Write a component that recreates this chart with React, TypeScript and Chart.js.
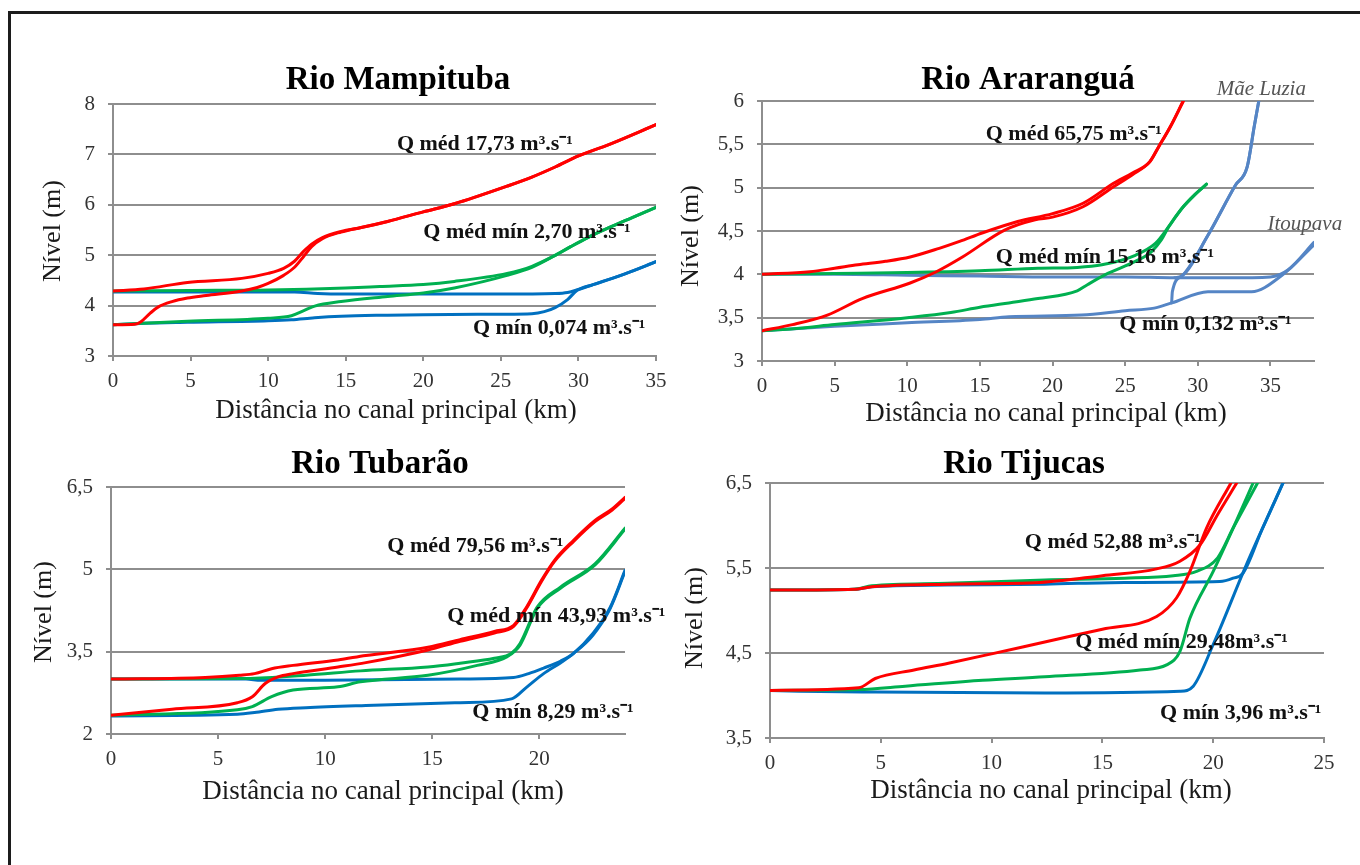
import React, { useEffect, useRef } from "react";
import { Chart, registerables } from "chart.js";
Chart.register(...registerables);

// ---------------- DATA (km along main channel, water level m) ----------------
// Rio Mampituba
const mampRedHighX = [0, 2, 4.8, 8.3, 10, 11, 11.7, 12.3, 12.8, 13.5, 14.7, 16, 17.7, 20, 22, 25.4, 27, 28.5, 30, 32, 35];
const mampRedHighY = [4.29, 4.33, 4.46, 4.54, 4.64, 4.74, 4.88, 5.08, 5.22, 5.35, 5.47, 5.55, 5.67, 5.86, 6.02, 6.37, 6.55, 6.75, 6.97, 7.2, 7.59];
const mampRedLowX = [0, 1.4, 1.8, 2.4, 2.9, 3.8, 4.8, 6, 8.3, 9.3, 10, 11, 11.7, 12.3, 12.8, 13.5, 14.7, 16, 17.7, 20, 22, 25.4, 27, 28.5, 30, 32, 35];
const mampRedLowY = [3.62, 3.63, 3.68, 3.85, 3.97, 4.08, 4.15, 4.2, 4.29, 4.36, 4.44, 4.6, 4.76, 4.98, 5.17, 5.33, 5.46, 5.55, 5.67, 5.86, 6.02, 6.37, 6.55, 6.75, 6.97, 7.2, 7.59];
const mampGreenHighX = [0, 5, 10, 15, 17.2, 20, 22, 25.4, 27, 28.4, 29.5, 30.6, 32, 33.5, 35];
const mampGreenHighY = [4.29, 4.3, 4.31, 4.35, 4.38, 4.42, 4.48, 4.64, 4.78, 4.98, 5.17, 5.35, 5.55, 5.75, 5.95];
const mampGreenLowX = [0, 4.8, 10, 11.5, 12.3, 13, 14.7, 17.7, 20, 22, 25.4, 27, 28.4, 29.5, 30.6, 32, 33.5, 35];
const mampGreenLowY = [3.62, 3.69, 3.75, 3.8, 3.9, 3.99, 4.08, 4.18, 4.25, 4.35, 4.6, 4.76, 4.98, 5.17, 5.35, 5.55, 5.75, 5.95];
const mampBlueHighX = [0, 10, 11.7, 13.2, 15, 20, 25, 28.5, 29.3, 30, 31, 33, 35];
const mampBlueHighY = [4.27, 4.27, 4.27, 4.24, 4.23, 4.23, 4.23, 4.24, 4.26, 4.32, 4.42, 4.63, 4.87];
const mampBlueLowX = [0, 2, 4.8, 10, 11.5, 13, 14.7, 17.7, 20, 25, 27, 27.8, 28.5, 29.3, 29.9, 31, 33, 35];
const mampBlueLowY = [3.62, 3.65, 3.67, 3.7, 3.72, 3.76, 3.79, 3.81, 3.82, 3.83, 3.84, 3.88, 3.96, 4.12, 4.3, 4.42, 4.63, 4.87];

// Rio Araranguá
const araRedHighX = [0, 3.3, 5, 6.6, 8.5, 10.2, 12.2, 13.6, 15.2, 17.6, 20, 22.1, 24.2, 25.5, 26.7, 27.3, 28.1, 29];
const araRedHighY = [4.0, 4.03, 4.07, 4.11, 4.15, 4.2, 4.3, 4.38, 4.48, 4.61, 4.7, 4.82, 5.05, 5.17, 5.3, 5.47, 5.7, 6.0];
const araRedLowX = [0, 2.1, 4.5, 6.9, 10.2, 12, 13.8, 16.7, 18.8, 20, 22.1, 24.2, 25.5, 26.7, 27.3, 28.1, 29];
const araRedLowY = [3.35, 3.42, 3.53, 3.72, 3.9, 4.03, 4.2, 4.51, 4.63, 4.66, 4.78, 5.01, 5.15, 5.3, 5.47, 5.7, 6.0];
const araGreenHighX = [0, 5, 10, 15, 19, 21.7, 23.4, 25.7, 27.1, 28, 28.9, 29.8, 30.6];
const araGreenHighY = [4.0, 4.01, 4.02, 4.04, 4.07, 4.08, 4.11, 4.22, 4.36, 4.55, 4.76, 4.92, 5.04];
const araGreenLowX = [0, 2, 5, 10, 13, 15, 17, 19, 21.7, 22.4, 23.8, 25.7, 26.8, 27.5, 28, 28.9, 29.8, 30.6];
const araGreenLowY = [3.35, 3.37, 3.42, 3.5, 3.56, 3.62, 3.67, 3.72, 3.81, 3.88, 4.01, 4.15, 4.26, 4.4, 4.55, 4.76, 4.92, 5.04];
const araBlueHighX = [0, 5, 10, 15, 20, 25, 28.4, 32, 35, 36.2, 38];
const araBlueHighY = [4.0, 4.0, 3.99, 3.98, 3.97, 3.97, 3.96, 3.96, 3.97, 4.05, 4.37];
const araBlueLowX = [0, 5, 10, 15, 17, 22, 25, 27, 28.2, 30.7, 33.7, 35.8, 38];
const araBlueLowY = [3.35, 3.4, 3.44, 3.48, 3.51, 3.53, 3.58, 3.61, 3.67, 3.8, 3.8, 3.99, 4.34];
const araMaeLuziaLowX = [28.2, 28.25, 28.9, 30.7, 32.6, 33.4, 33.9, 34.2];
const araMaeLuziaLowY = [3.67, 3.8, 3.98, 4.45, 5.03, 5.24, 5.72, 6.0];
const araMaeLuziaHighX = [28.4, 28.9, 30.7, 32.6, 33.4, 33.9, 34.2];
const araMaeLuziaHighY = [3.96, 3.98, 4.45, 5.03, 5.24, 5.72, 6.0];

// Rio Tubarão
const tubRedHighX = [0, 4.4, 6, 6.7, 7.5, 8.5, 10.6, 11.9, 14.8, 16.3, 17.9, 18.8, 19.4, 20.1, 20.7, 21.6, 22.6, 23.4, 24];
const tubRedHighY = [3.0, 3.03, 3.07, 3.1, 3.19, 3.25, 3.35, 3.43, 3.58, 3.72, 3.87, 3.98, 4.31, 4.8, 5.16, 5.53, 5.89, 6.1, 6.31];
const tubRedLowX = [0, 2.85, 5.9, 6.6, 7.2, 7.8, 8.5, 10.6, 11.9, 14.8, 16.3, 17.9, 18.8, 19.4, 20.1, 20.7, 21.6, 22.6, 23.4, 24];
const tubRedLowY = [2.34, 2.45, 2.57, 2.68, 2.92, 3.04, 3.1, 3.22, 3.3, 3.53, 3.69, 3.84, 3.96, 4.29, 4.78, 5.14, 5.51, 5.87, 6.08, 6.29];
const tubGreenHighX = [0, 6.3, 9.1, 11.65, 14.8, 16.3, 17.9, 18.7, 19.1, 19.9, 21, 22.6, 24];
const tubGreenHighY = [3.0, 3.01, 3.07, 3.15, 3.22, 3.29, 3.38, 3.47, 3.65, 4.31, 4.68, 5.1, 5.75];
const tubGreenLowX = [0, 5.9, 6.6, 7.5, 8.5, 10.6, 11.65, 14.8, 17.1, 18.5, 19.1, 19.9, 21, 22.6, 24];
const tubGreenLowY = [2.34, 2.44, 2.5, 2.68, 2.8, 2.86, 2.95, 3.07, 3.25, 3.41, 3.62, 4.29, 4.66, 5.08, 5.73];
const tubBlueHighX = [0, 6.3, 7, 10, 16.3, 18.8, 19.5, 20.2, 21, 21.6, 22.5, 23.3, 24];
const tubBlueHighY = [3.0, 3.0, 2.98, 2.98, 3.0, 3.03, 3.1, 3.2, 3.33, 3.47, 3.83, 4.3, 4.98];
const tubBlueLowX = [0, 5.9, 6.7, 7.8, 9.1, 11.9, 16.3, 18.7, 19.4, 20.2, 21, 21.6, 22.5, 23.3, 24];
const tubBlueLowY = [2.33, 2.36, 2.39, 2.45, 2.48, 2.52, 2.57, 2.64, 2.85, 3.1, 3.3, 3.47, 3.8, 4.28, 4.96];

// Rio Tijucas
const tijRedHighX = [0, 3.8, 4.6, 8, 12.2, 15, 17.45, 18.5, 19.4, 20.2, 21.06];
const tijRedHighY = [5.24, 5.25, 5.28, 5.31, 5.33, 5.41, 5.49, 5.58, 5.77, 6.13, 6.5];
const tijRedLowX = [0, 4, 4.75, 6.5, 8.05, 10, 12.4, 15, 17.45, 18.35, 18.95, 19.7, 20.8];
const tijRedLowY = [4.06, 4.09, 4.2, 4.3, 4.38, 4.49, 4.63, 4.78, 4.93, 5.15, 5.46, 5.97, 6.5];
const tijGreenHighX = [0, 3.8, 4.6, 8, 12.4, 16, 18.2, 19.25, 20.2, 20.9, 22];
const tijGreenHighY = [5.24, 5.25, 5.29, 5.32, 5.36, 5.38, 5.41, 5.46, 5.62, 5.97, 6.5];
const tijGreenLowX = [0, 4, 6.1, 9.6, 12.4, 16.7, 17.9, 18.5, 18.95, 20, 20.9, 21.8];
const tijGreenLowY = [4.06, 4.07, 4.11, 4.18, 4.22, 4.3, 4.36, 4.52, 4.91, 5.46, 5.97, 6.5];
const tijBlueHighX = [0, 3.84, 4.6, 8, 12.4, 16, 20.3, 20.9, 21.35, 22.2, 23.15];
const tijBlueHighY = [5.24, 5.25, 5.28, 5.3, 5.31, 5.33, 5.34, 5.38, 5.44, 5.95, 6.5];
const tijBlueLowX = [0, 1.3, 4.75, 12.4, 18.5, 19.1, 20, 21.5, 23.15];
const tijBlueLowY = [4.06, 4.05, 4.04, 4.03, 4.05, 4.11, 4.6, 5.54, 6.5];

// Axis ranges / ticks
const mampXRange = [0, 35, 5];
const mampYRange = [3, 8, 1];
const araXRange = [0, 38, 5];
const araYRange = [3, 6, 0.5];
const tubXRange = [0, 24, 5];
const tubYRange = [2, 6.5, 1.5];
const tijXRange = [0, 25, 5];
const tijYRange = [3.5, 6.5, 1];

// Texts
const X_TITLE = "Distância no canal principal (km)";
const Y_TITLE = "Nível (m)";
const mampTitle = "Rio Mampituba";
const araTitle = "Rio Araranguá";
const tubTitle = "Rio Tubarão";
const tijTitle = "Rio Tijucas";
const mampNotes = ["Q méd 17,73 m³.s⁻¹", "Q méd mín 2,70 m³.s⁻¹", "Q mín 0,074 m³.s⁻¹"];
const mampNoteX = [18.3, 20.0, 23.2];
const mampNoteY = [7.09, 5.35, 3.44];
const araNotes = ["Q méd 65,75 m³.s⁻¹", "Q méd mín 15,16 m³.s⁻¹", "Q mín 0,132 m³.s⁻¹"];
const araNoteX = [15.4, 16.1, 24.6];
const araNoteY = [5.55, 4.13, 3.36];
const araPlaces = ["Mãe Luzia", "Itoupava"];
const araPlaceX = [31.3, 34.8];
const araPlaceY = [6.07, 4.51];
const tubNotes = ["Q méd 79,56 m³.s⁻¹", "Q méd mín 43,93 m³.s⁻¹", "Q mín 8,29 m³.s⁻¹"];
const tubNoteX = [12.9, 15.7, 16.87];
const tubNoteY = [5.31, 4.04, 2.29];
const tijNotes = ["Q méd 52,88 m³.s⁻¹", "Q méd mín 29,48m³.s⁻¹", "Q mín 3,96 m³.s⁻¹"];
const tijNoteX = [11.5, 13.77, 17.6];
const tijNoteY = [5.74, 4.56, 3.72];

// ---------------- STYLE / LAYOUT ----------------
const FONT = '"Liberation Serif", "Times New Roman", serif';
const RED = "#FF0000";
const GREEN = "#00B050";
const BLUE = "#0070C0";
const STEEL = "#5585C5";
const GRID = "#8E8E8E";

type Series = { xs: number[]; ys: number[]; color: string };
type Note = { text: string; x: number; y: number; italic?: boolean };
type Rect = { left: number; top: number; width: number; height: number };
type Panel = {
  canvas: Rect;
  area: { left: number; top: number; right: number; bottom: number };
  xr: number[];
  yr: number[];
  title: string;
  titleX: number;
  titleBase: number;
  xTitleX: number;
  xTitleBase: number;
  yTitleX: number;
  yTitleY: number;
  series: Series[];
  notes: Note[];
};

const mk = (xs: number[], ys: number[], color: string): Series => ({ xs, ys, color });
const notesOf = (t: string[], x: number[], y: number[], italic = false): Note[] =>
  t.map((text, i) => ({ text, x: x[i], y: y[i], italic }));

const panels: Panel[] = [
  {
    canvas: { left: 12, top: 16, width: 680, height: 414 },
    area: { left: 113, top: 104, right: 656, bottom: 356 },
    xr: mampXRange, yr: mampYRange,
    title: mampTitle, titleX: 398, titleBase: 89,
    xTitleX: 396, xTitleBase: 418, yTitleX: 53, yTitleY: 231,
    series: [
      mk(mampRedHighX, mampRedHighY, RED), mk(mampRedLowX, mampRedLowY, RED),
      mk(mampGreenHighX, mampGreenHighY, GREEN), mk(mampGreenLowX, mampGreenLowY, GREEN),
      mk(mampBlueHighX, mampBlueHighY, BLUE), mk(mampBlueLowX, mampBlueLowY, BLUE),
    ],
    notes: notesOf(mampNotes, mampNoteX, mampNoteY),
  },
  {
    canvas: { left: 672, top: 16, width: 688, height: 414 },
    area: { left: 762, top: 101, right: 1314, bottom: 361 },
    xr: araXRange, yr: araYRange,
    title: araTitle, titleX: 1028, titleBase: 89,
    xTitleX: 1046, xTitleBase: 421, yTitleX: 691, yTitleY: 236,
    series: [
      mk(araRedHighX, araRedHighY, RED), mk(araRedLowX, araRedLowY, RED),
      mk(araGreenHighX, araGreenHighY, GREEN), mk(araGreenLowX, araGreenLowY, GREEN),
      mk(araBlueHighX, araBlueHighY, STEEL), mk(araBlueLowX, araBlueLowY, STEEL),
      mk(araMaeLuziaLowX, araMaeLuziaLowY, STEEL), mk(araMaeLuziaHighX, araMaeLuziaHighY, STEEL),
    ],
    notes: [...notesOf(araNotes, araNoteX, araNoteY), ...notesOf(araPlaces, araPlaceX, araPlaceY, true)],
  },
  {
    canvas: { left: 12, top: 432, width: 690, height: 420 },
    area: { left: 111, top: 487, right: 625, bottom: 734 },
    xr: tubXRange, yr: tubYRange,
    title: tubTitle, titleX: 380, titleBase: 473,
    xTitleX: 383, xTitleBase: 799, yTitleX: 44, yTitleY: 612,
    series: [
      mk(tubRedHighX, tubRedHighY, RED), mk(tubRedLowX, tubRedLowY, RED),
      mk(tubGreenHighX, tubGreenHighY, GREEN), mk(tubGreenLowX, tubGreenLowY, GREEN),
      mk(tubBlueHighX, tubBlueHighY, BLUE), mk(tubBlueLowX, tubBlueLowY, BLUE),
    ],
    notes: notesOf(tubNotes, tubNoteX, tubNoteY),
  },
  {
    canvas: { left: 672, top: 432, width: 688, height: 420 },
    area: { left: 770, top: 483, right: 1324, bottom: 738 },
    xr: tijXRange, yr: tijYRange,
    title: tijTitle, titleX: 1024, titleBase: 473,
    xTitleX: 1051, xTitleBase: 798, yTitleX: 695, yTitleY: 618,
    series: [
      mk(tijRedHighX, tijRedHighY, RED), mk(tijRedLowX, tijRedLowY, RED),
      mk(tijGreenHighX, tijGreenHighY, GREEN), mk(tijGreenLowX, tijGreenLowY, GREEN),
      mk(tijBlueHighX, tijBlueHighY, BLUE), mk(tijBlueLowX, tijBlueLowY, BLUE),
    ],
    notes: notesOf(tijNotes, tijNoteX, tijNoteY),
  },
];

const fmt = (v: number) => String(Math.round(v * 100) / 100).replace(".", ",");

function textPlugin(p: Panel) {
  return {
    id: "panelTexts",
    afterDatasetsDraw(chart: any) {
      const ctx = chart.ctx as CanvasRenderingContext2D;
      const sx = chart.scales.x;
      const sy = chart.scales.y;
      const ox = p.canvas.left;
      const oy = p.canvas.top;
      ctx.save();
      ctx.textAlign = "left";
      ctx.textBaseline = "alphabetic";
      for (const n of p.notes) {
        ctx.font = n.italic ? `italic 21px ${FONT}` : `bold 22px ${FONT}`;
        ctx.fillStyle = n.italic ? "#555555" : "#111111";
        ctx.fillText(n.text, sx.getPixelForValue(n.x), sy.getPixelForValue(n.y));
      }
      ctx.textAlign = "center";
      ctx.fillStyle = "#000000";
      ctx.font = `bold 33px ${FONT}`;
      ctx.fillText(p.title, p.titleX - ox, p.titleBase - oy);
      ctx.fillStyle = "#1a1a1a";
      ctx.font = `27px ${FONT}`;
      ctx.fillText(X_TITLE, p.xTitleX - ox, p.xTitleBase - oy);
      ctx.translate(p.yTitleX - ox, p.yTitleY - oy);
      ctx.rotate(-Math.PI / 2);
      ctx.textBaseline = "middle";
      ctx.font = `26px ${FONT}`;
      ctx.fillText(Y_TITLE, 0, 0);
      ctx.restore();
    },
  };
}

function PanelChart({ p }: { p: Panel }) {
  const ref = useRef<HTMLCanvasElement>(null);
  useEffect(() => {
    const canvas = ref.current;
    if (!canvas) return;
    const yAxisW = p.area.left - p.canvas.left;
    const padTop = p.area.top - p.canvas.top;
    const padRight = p.canvas.left + p.canvas.width - p.area.right;
    const xAxisH = p.canvas.top + p.canvas.height - p.area.bottom;
    const chart = new Chart(canvas, {
      type: "line",
      data: {
        datasets: p.series.map((s) => ({
          data: s.xs.map((x, i) => ({ x, y: s.ys[i] })),
          borderColor: s.color,
          backgroundColor: s.color,
          borderWidth: 3,
          pointRadius: 0,
          fill: false,
          cubicInterpolationMode: "monotone" as const,
          borderCapStyle: "round" as const,
          borderJoinStyle: "round" as const,
        })),
      },
      options: {
        responsive: false,
        animation: false,
        devicePixelRatio: 1,
        layout: { padding: { left: 0, top: padTop, right: padRight, bottom: 0 } },
        plugins: { legend: { display: false }, tooltip: { enabled: false }, title: { display: false } },
        scales: {
          x: {
            type: "linear",
            min: p.xr[0],
            max: p.xr[1],
            afterFit: (s: any) => { s.height = xAxisH; },
            ticks: {
              stepSize: p.xr[2],
              includeBounds: false,
              padding: 8,
              color: "#333333",
              font: { family: FONT, size: 21 },
              callback: (v: any) => fmt(Number(v)),
            },
            grid: { display: true, drawOnChartArea: false, drawTicks: true, tickLength: 5, color: GRID, lineWidth: 2 },
            border: { display: true, color: GRID, width: 2 },
          },
          y: {
            type: "linear",
            min: p.yr[0],
            max: p.yr[1],
            afterFit: (s: any) => { s.width = yAxisW; },
            ticks: {
              stepSize: p.yr[2],
              padding: 13,
              color: "#333333",
              font: { family: FONT, size: 21 },
              callback: (v: any) => fmt(Number(v)),
            },
            grid: { display: true, drawTicks: true, tickLength: 5, color: GRID, lineWidth: 2 },
            border: { display: true, color: GRID, width: 2 },
          },
        },
      },
      plugins: [textPlugin(p)],
    } as any);
    return () => chart.destroy();
  }, [p]);
  return (
    <canvas
      ref={ref}
      width={p.canvas.width}
      height={p.canvas.height}
      style={{ position: "absolute", left: p.canvas.left, top: p.canvas.top, width: p.canvas.width, height: p.canvas.height }}
    />
  );
}

export default function App() {
  return (
    <div style={{ position: "absolute", left: 0, top: 0, width: 1360, height: 865, overflow: "hidden", background: "#ffffff" }}>
      <div
        style={{
          position: "absolute", left: 8, top: 11, width: 1352, height: 854,
          boxSizing: "border-box", borderTop: "3px solid #1c1c1c", borderLeft: "3px solid #1c1c1c",
        }}
      />
      {panels.map((p, i) => (
        <PanelChart key={i} p={p} />
      ))}
    </div>
  );
}
